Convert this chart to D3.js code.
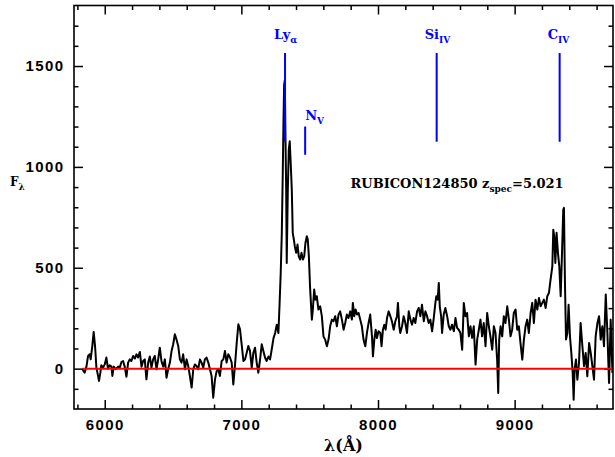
<!DOCTYPE html>
<html>
<head>
<meta charset="utf-8">
<script src="https://cdn.jsdelivr.net/npm/d3@7"></script>
<style>
  html, body { margin: 0; padding: 0; background: #fff; }
  svg { display: block; }
</style>
</head>
<body>
<svg id="chart" width="615" height="457"></svg>
<script>
// Observed-frame wavelength (Angstrom) of each spectral pixel
const wave = [
  5836, 5853, 5866, 5878, 5890, 5897, 5909, 5919, 5929, 5939, 5951, 5958, 5968, 5975, 5988,
  6000, 6012, 6024, 6036, 6049, 6056, 6066, 6080, 6098, 6110, 6122, 6134, 6146, 6159, 6171,
  6183, 6195, 6208, 6220, 6232, 6244, 6257, 6269, 6281, 6293, 6305, 6318, 6330, 6342, 6354,
  6366, 6379, 6391, 6403, 6415, 6428, 6440, 6452, 6464, 6477, 6489, 6501, 6513, 6525, 6538,
  6550, 6562, 6574, 6587, 6599, 6611, 6623, 6636, 6648, 6660, 6672, 6684, 6697, 6709, 6721,
  6733, 6745, 6758, 6770, 6782, 6794, 6807, 6819, 6831, 6843, 6856, 6868, 6880, 6892, 6904,
  6917, 6929, 6941, 6953, 6966, 6978, 6990, 7002, 7015, 7027, 7039, 7051, 7063, 7076, 7088,
  7100, 7112, 7124, 7137, 7149, 7161, 7173, 7185, 7198, 7210, 7222, 7235, 7247, 7259, 7271,
  7279, 7288, 7296, 7303, 7308, 7313, 7318, 7323, 7328, 7332, 7340, 7347, 7354, 7362, 7369,
  7376, 7384, 7391, 7401, 7411, 7420, 7430, 7440, 7450, 7460, 7469, 7479, 7486, 7494, 7503,
  7516, 7523, 7533, 7542, 7552, 7564, 7577, 7589, 7601, 7613, 7626, 7638, 7650, 7662, 7674,
  7687, 7699, 7711, 7723, 7736, 7748, 7760, 7772, 7784, 7797, 7809, 7816, 7826, 7836, 7846,
  7858, 7870, 7882, 7894, 7907, 7919, 7931, 7943, 7956, 7963, 7973, 7983, 7992, 8004, 8017,
  8026, 8036, 8046, 8056, 8066, 8078, 8090, 8102, 8115, 8127, 8139, 8146, 8156, 8163, 8176,
  8188, 8200, 8212, 8225, 8237, 8249, 8261, 8273, 8286, 8298, 8310, 8322, 8335, 8347, 8359,
  8371, 8383, 8396, 8408, 8420, 8427, 8437, 8445, 8452, 8462, 8469, 8481, 8493, 8506, 8518,
  8530, 8542, 8555, 8567, 8579, 8591, 8603, 8616, 8628, 8640, 8652, 8665, 8677, 8689, 8701,
  8714, 8726, 8738, 8750, 8762, 8774, 8787, 8799, 8811, 8823, 8836, 8848, 8860, 8872, 8880,
  8887, 8897, 8909, 8921, 8933, 8946, 8958, 8970, 8982, 8994, 9007, 9019, 9031, 9043, 9056,
  9068, 9080, 9092, 9104, 9117, 9129, 9141, 9153, 9166, 9178, 9190, 9202, 9214, 9227, 9239,
  9251, 9263, 9276, 9283, 9290, 9298, 9307, 9317, 9327, 9337, 9346, 9356, 9361, 9368, 9376,
  9386, 9395, 9405, 9415, 9425, 9432, 9439, 9449, 9459, 9471, 9483, 9496, 9508, 9520, 9532,
  9545, 9557, 9569, 9581, 9593, 9606, 9618, 9630, 9642, 9654, 9667, 9679, 9691, 9703, 9716
];

// Flux density F_lambda at each wavelength
const flux = [
  -3, -20, 10, 63, 71, 46, 112, 182, 112, 5, -36, -61, -20, 17, 5,
  21, 55, 0, 17, 10, -36, 10, -3, 10, 5, 33, 38, 10, -40, 30,
  46, 38, 63, 50, 71, 55, 83, 10, 38, 46, -53, 30, 60, 5, 46,
  63, -3, 46, 104, 38, 10, 46, -45, -3, 30, 88, 121, 170, 145, 112,
  46, 30, 71, -3, 46, 13, -36, -94, -3, 21, 13, -3, 46, 30, 5,
  46, 55, 30, -3, -36, -144, -53, -12, -3, -36, 38, 46, 88, 30, 71,
  55, 30, -78, 13, 129, 220, 195, 121, 38, 46, 79, 112, 88, 5, 79,
  104, 30, -20, 46, 121, 88, 55, 38, 60, 46, 95, 150, 177, 218, 177,
  309, 474, 673, 970, 1218, 1408, 1430, 1136, 888, 524, 888, 1086, 1127, 1003, 888,
  673, 640, 607, 574, 615, 557, 541, 574, 541, 557, 623, 656, 640, 557, 400,
  243, 292, 392, 342, 359, 293, 309, 260, 160, 144, 111, 144, 210, 243, 235,
  260, 210, 268, 284, 243, 193, 226, 268, 251, 284, 243, 326, 260, 293, 268,
  276, 243, 210, 144, 111, 177, 226, 268, 160, 61, 144, 193, 152, 185, 177,
  111, 193, 218, 193, 251, 284, 260, 235, 193, 235, 260, 326, 210, 177, 210,
  260, 226, 177, 284, 243, 218, 251, 226, 284, 301, 260, 317, 235, 284, 260,
  226, 243, 185, 251, 326, 359, 342, 425, 309, 260, 177, 268, 301, 260, 210,
  193, 218, 185, 251, 202, 193, 177, 94, 326, 260, 276, 160, 210, 152, 210,
  20, 144, 193, 243, 160, 226, 111, 276, 210, 160, 94, 210, 177, 45, -121,
  144, 210, 160, 260, 226, 309, 243, 160, 193, 276, 293, 193, 210, 127, 45,
  144, 210, 243, 177, 276, 326, 226, 342, 293, 350, 309, 326, 342, 301, 359,
  375, 441, 507, 689, 656, 524, 673, 574, 507, 359, 557, 788, 797, 441, 144,
  177, 317, 160, 78, -21, -154, -5, 45, -55, 28, 226, 111, 12, 78, -38,
  127, 78, 12, -55, 160, 226, 260, 144, 210, 111, 367, 177, -71, 243, -21
];

// Tick values
const xMajorTicks = [6000, 7000, 8000, 9000];
const yMajorTicks = [0, 500, 1000, 1500];

// Emission lines: rest-frame wavelengths and labels
const zSpec = 5.021;
const lineName = ["Ly", "N", "Si", "C"];
const lineSub = ["\u03B1", "V", "IV", "IV"];
const lineRest = [1215.67, 1240.14, 1400.0, 1549.5];
const lineTop = [1565, 1200, 1565, 1565];
const lineBottom = [1125, 1060, 1125, 1125];

const objectName = "RUBICON124850";

// ---------------------------------------------------------------
const svg = d3.select("#chart");
const L = 74, R = 613, T = 5.5, B = 409;

const x = d3.scaleLinear().domain([5775, 9720]).range([L, R]);
const y = d3.scaleLinear().domain([-200, 1800]).range([B, T]);

const xMinor = d3.range(5800, 9720, 200).filter(v => !xMajorTicks.includes(v));
const yMinor = d3.range(-100, 1800, 100).filter(v => !yMajorTicks.includes(v));

const tickFont = "Liberation Sans, Arial, sans-serif";
const serif = "DejaVu Serif, serif";

function styleAxis(g) {
  g.select(".domain").remove();
  g.selectAll(".tick line").attr("stroke", "#000").attr("stroke-width", 1.5);
  g.selectAll(".tick text")
    .attr("fill", "#000")
    .attr("font-family", tickFont)
    .attr("font-weight", "bold")
    .attr("font-size", 15)
    .attr("letter-spacing", 1.4);
}

// bottom axis
svg.append("g").attr("transform", `translate(0,${B})`)
  .call(d3.axisBottom(x).tickValues(xMajorTicks).tickSize(-9).tickPadding(10).tickFormat(d3.format("d")))
  .call(styleAxis);
svg.append("g").attr("transform", `translate(0,${B})`)
  .call(d3.axisBottom(x).tickValues(xMinor).tickSize(-4.5).tickFormat(""))
  .call(styleAxis);
// top axis (ticks only)
svg.append("g").attr("transform", `translate(0,${T})`)
  .call(d3.axisTop(x).tickValues(xMajorTicks).tickSize(-9).tickFormat(""))
  .call(styleAxis);
svg.append("g").attr("transform", `translate(0,${T})`)
  .call(d3.axisTop(x).tickValues(xMinor).tickSize(-4.5).tickFormat(""))
  .call(styleAxis);
// left axis
svg.append("g").attr("transform", `translate(${L},0)`)
  .call(d3.axisLeft(y).tickValues(yMajorTicks).tickSize(-9).tickPadding(9.5).tickFormat(d3.format("d")))
  .call(styleAxis);
svg.append("g").attr("transform", `translate(${L},0)`)
  .call(d3.axisLeft(y).tickValues(yMinor).tickSize(-4.5).tickFormat(""))
  .call(styleAxis);
// right axis (ticks only)
svg.append("g").attr("transform", `translate(${R},0)`)
  .call(d3.axisRight(y).tickValues(yMajorTicks).tickSize(-9).tickFormat(""))
  .call(styleAxis);
svg.append("g").attr("transform", `translate(${R},0)`)
  .call(d3.axisRight(y).tickValues(yMinor).tickSize(-4.5).tickFormat(""))
  .call(styleAxis);

// plot clip
svg.append("clipPath").attr("id", "plotclip")
  .append("rect").attr("x", L).attr("y", T).attr("width", R - L).attr("height", B - T);

const plot = svg.append("g").attr("clip-path", "url(#plotclip)");

// spectrum
const pts = wave.map((w, i) => [w, flux[i]]);
plot.append("path")
  .datum(pts)
  .attr("fill", "none")
  .attr("stroke", "#000")
  .attr("stroke-width", 2)
  .attr("stroke-linejoin", "round")
  .attr("d", d3.line().x(d => x(d[0])).y(d => y(d[1])));

// zero level
plot.append("line")
  .attr("x1", x(wave[0])).attr("x2", R)
  .attr("y1", y(0)).attr("y2", y(0))
  .attr("stroke", "#ff0000").attr("stroke-width", 2);

// emission line markers
const labelDx = [-11, 0, -12, -12];
const labelGap = [14, 7, 14, 14];
lineRest.forEach((rest, i) => {
  const xo = x(rest * (1 + zSpec));
  plot.append("line")
    .attr("x1", xo).attr("x2", xo)
    .attr("y1", y(lineTop[i])).attr("y2", y(lineBottom[i]))
    .attr("stroke", "#0000ff").attr("stroke-width", 2);
  const t = svg.append("text")
    .attr("x", xo + labelDx[i])
    .attr("y", y(lineTop[i]) - labelGap[i])
    .attr("fill", "#0000ff")
    .attr("font-family", serif)
    .attr("font-weight", "bold")
    .attr("font-size", 13);
  t.append("tspan").text(lineName[i]);
  t.append("tspan").attr("font-size", 9).attr("dy", 4).text(lineSub[i]);
});

// object annotation
const ann = svg.append("text")
  .attr("x", 350.5).attr("y", 188)
  .attr("fill", "#000")
  .attr("font-family", serif)
  .attr("font-weight", "bold")
  .attr("font-size", 13);
ann.append("tspan").text(objectName + " z");
ann.append("tspan").attr("font-size", 9).attr("dy", 4).text("spec");
ann.append("tspan").attr("dy", -4).text("=" + zSpec.toFixed(3));

// frame
svg.append("rect")
  .attr("x", L).attr("y", T).attr("width", R - L).attr("height", B - T)
  .attr("fill", "none").attr("stroke", "#000").attr("stroke-width", 1.6);

// axis titles
svg.append("text")
  .attr("x", (L + R) / 2).attr("y", 451)
  .attr("text-anchor", "middle")
  .attr("font-family", serif).attr("font-weight", "bold").attr("font-size", 16)
  .text("\u03BB(\u00C5)");

const yt = svg.append("text")
  .attr("x", 10).attr("y", 186)
  .attr("font-family", serif).attr("font-weight", "bold").attr("font-size", 12);
yt.append("tspan").text("F");
yt.append("tspan").attr("font-size", 9).attr("dy", 4).text("\u03BB");
</script>
</body>
</html>
